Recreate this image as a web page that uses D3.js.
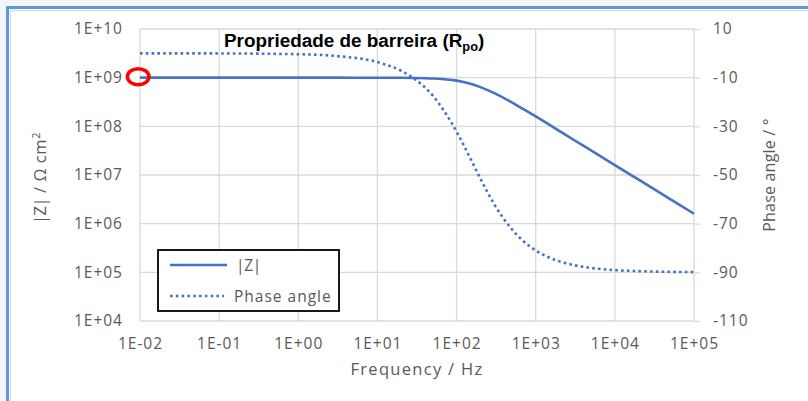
<!DOCTYPE html>
<html>
<head>
<meta charset="utf-8">
<script src="https://cdn.jsdelivr.net/npm/d3@7"></script>
<style>
  body { margin: 0; background: #f3f7fb; }
  svg { display: block; }
</style>
</head>
<body>
<svg id="chart" width="808" height="401"></svg>
<script>
// Bode data: frequency (Hz), impedance modulus (Ω cm²), phase angle (°)
const frequency = [0.01, 0.1, 1, 3, 10, 20, 30, 50, 70, 100, 150, 200, 300, 500, 700,
                   1000, 2000, 3000, 5000, 10000, 20000, 50000, 100000];
const impedance = [1.0e9, 1.0e9, 1.0e9, 1.0e9, 9.98e8, 9.93e8, 9.85e8, 9.6e8, 9.25e8,
                   8.7e8, 7.5e8, 6.4e8, 4.8e8, 3.1e8, 2.25e8,
                   1.6e8, 8.0e7, 5.3e7, 3.2e7, 1.6e7, 8.0e6, 3.2e6, 1.6e6];
const phase = [0, -0.04, -0.36, -1.1, -3.6, -7.2, -10.7, -17.4, -23.8,
               -32.2, -43.3, -51.5, -62.1, -72.3, -77.2,
               -81.0, -85.5, -87.0, -88.2, -89.1, -89.5, -89.8, -89.9];

const freqTicks = [1e-2, 1e-1, 1e0, 1e1, 1e2, 1e3, 1e4, 1e5];
const freqTickLabels = ["1E-02", "1E-01", "1E+00", "1E+01", "1E+02", "1E+03", "1E+04", "1E+05"];
const zTicks = [1e4, 1e5, 1e6, 1e7, 1e8, 1e9, 1e10];
const zTickLabels = ["1E+04", "1E+05", "1E+06", "1E+07", "1E+08", "1E+09", "1E+10"];
const phaseTicks = [10, -10, -30, -50, -70, -90, -110];
const phaseTickLabels = ["10", "-10", "-30", "-50", "-70", "-90", "-110"];

const seriesNames = ["|Z|", "Phase angle"];

const svg = d3.select("#chart");
const W = 808, H = 401;
const plot = { left: 140, right: 694, top: 29, bottom: 321 };
const blue = "#4472c4";
const gridColor = "#d9d9d9";
const labelColor = "#595959";
const tickFont = "'Open Sans', sans-serif";

// frame
svg.append("rect").attr("width", W).attr("height", H).attr("fill", "#f3f7fb");
svg.append("rect").attr("x", 9).attr("y", 9).attr("width", W).attr("height", H).attr("fill", "#ffffff");
svg.append("path")
  .attr("d", `M10.5,${H} V10.5 H${W}`)
  .attr("fill", "none").attr("stroke", "#dcdcdc").attr("stroke-width", 1.5);
svg.append("path")
  .attr("d", `M7.5,${H} V7.5 H${W}`)
  .attr("fill", "none").attr("stroke", "#5b9bd5").attr("stroke-width", 3);

// scales
const x = d3.scaleLog().domain([1e-2, 1e5]).range([plot.left, plot.right]);
const yZ = d3.scaleLog().domain([1e4, 1e10]).range([plot.bottom, plot.top]);
const yP = d3.scaleLinear().domain([-110, 10]).range([plot.bottom, plot.top]);

// gridlines
const grid = svg.append("g").attr("stroke", gridColor).attr("stroke-width", 1.3);
grid.selectAll("line.v").data(freqTicks).join("line").attr("class", "v")
  .attr("x1", d => x(d)).attr("x2", d => x(d))
  .attr("y1", plot.top).attr("y2", plot.bottom);
grid.selectAll("line.h").data(zTicks).join("line").attr("class", "h")
  .attr("x1", plot.left).attr("x2", plot.right)
  .attr("y1", d => yZ(d)).attr("y2", d => yZ(d));

function styleAxis(g, size) {
  g.select(".domain").remove();
  g.selectAll(".tick line").attr("stroke", gridColor).attr("stroke-width", 1.3);
  g.selectAll(".tick text")
    .attr("fill", labelColor)
    .style("font-family", tickFont)
    .style("font-size", size + "px")
    .style("letter-spacing", "1px");
}

// bottom axis
svg.append("g")
  .attr("transform", `translate(0,${plot.bottom})`)
  .call(d3.axisBottom(x).tickValues(freqTicks)
        .tickFormat((d, i) => freqTickLabels[i]).tickSize(0).tickPadding(17))
  .call(g => styleAxis(g, 15.5));

// left axis
svg.append("g")
  .attr("transform", `translate(${plot.left},0)`)
  .call(d3.axisLeft(yZ).tickValues(zTicks)
        .tickFormat((d, i) => zTickLabels[i]).tickSize(0).tickPadding(17))
  .call(g => styleAxis(g, 15.5));

// right axis
svg.append("g")
  .attr("transform", `translate(${plot.right},0)`)
  .call(d3.axisRight(yP).tickValues(phaseTicks)
        .tickFormat((d, i) => phaseTickLabels[i]).tickSize(6).tickPadding(13))
  .call(g => styleAxis(g, 15.5));

// axis titles
svg.append("text")
  .attr("x", (plot.left + plot.right) / 2).attr("y", 375)
  .attr("text-anchor", "middle").attr("fill", labelColor)
  .style("font-family", tickFont).style("font-size", "16.5px").style("letter-spacing", "1.3px")
  .text("Frequency / Hz");

const zTitle = svg.append("text")
  .attr("transform", `translate(46,${(plot.top + plot.bottom) / 2 + 3}) rotate(-90)`)
  .attr("text-anchor", "middle").attr("fill", labelColor)
  .style("font-family", tickFont).style("font-size", "16.5px").style("letter-spacing", "0.6px");
zTitle.append("tspan").style("letter-spacing", "-0.5px").text("|Z|");
zTitle.append("tspan").text(" / Ω cm");
zTitle.append("tspan").attr("dy", -6).style("font-size", "11px").text("2");

svg.append("text")
  .attr("transform", `translate(775,${(plot.top + plot.bottom) / 2}) rotate(-90)`)
  .attr("text-anchor", "middle").attr("fill", labelColor)
  .style("font-family", tickFont).style("font-size", "16px").style("letter-spacing", "0.2px")
  .text("Phase angle / °");

// series
const zLine = d3.line()
  .x((d, i) => x(frequency[i])).y(d => yZ(d))
  .curve(d3.curveMonotoneX);
const pLine = d3.line()
  .x((d, i) => x(frequency[i])).y(d => yP(d))
  .curve(d3.curveMonotoneX);

svg.append("path").datum(phase)
  .attr("d", pLine).attr("fill", "none")
  .attr("stroke", blue).attr("stroke-width", 2.6).attr("stroke-dasharray", "2.6 3.2");
svg.append("path").datum(impedance)
  .attr("d", zLine).attr("fill", "none")
  .attr("stroke", blue).attr("stroke-width", 2.6);

// chart title
const title = svg.append("text")
  .attr("x", 224).attr("y", 47.3)
  .style("font-family", "'Liberation Sans', Arial, sans-serif")
  .style("font-weight", "bold").style("font-size", "18.9px").attr("fill", "#000");
title.append("tspan").text("Propriedade de barreira (R");
title.append("tspan").attr("dy", 4).style("font-size", "12.8px").text("po");
title.append("tspan").attr("dy", -4).text(")");

// highlight of the low-frequency modulus
svg.append("ellipse")
  .attr("cx", x(frequency[0]) - 1.8).attr("cy", yZ(impedance[0]) - 1)
  .attr("rx", 10.8).attr("ry", 8)
  .attr("fill", "none").attr("stroke", "#ff0000").attr("stroke-width", 3.5);

// legend
const legend = svg.append("g");
legend.append("rect")
  .attr("x", 158).attr("y", 250).attr("width", 181).attr("height", 61)
  .attr("fill", "#fff").attr("stroke", "#000").attr("stroke-width", 1.8);
const legendRows = [
  { name: seriesNames[0], y: 265, dash: null, x2: 227, tx: 236, ls: "-0.3px" },
  { name: seriesNames[1], y: 296, dash: "2.6 3.2", x2: 224, tx: 234, ls: "1px" }
];
legendRows.forEach(r => {
  legend.append("line")
    .attr("x1", 170).attr("x2", r.x2).attr("y1", r.y).attr("y2", r.y)
    .attr("stroke", blue).attr("stroke-width", 2.6)
    .attr("stroke-dasharray", r.dash);
  legend.append("text")
    .attr("x", r.tx).attr("y", r.y + 5.5)
    .attr("fill", labelColor)
    .style("font-family", tickFont).style("font-size", "15.5px").style("letter-spacing", r.ls)
    .text(r.name);
});
</script>
</body>
</html>
